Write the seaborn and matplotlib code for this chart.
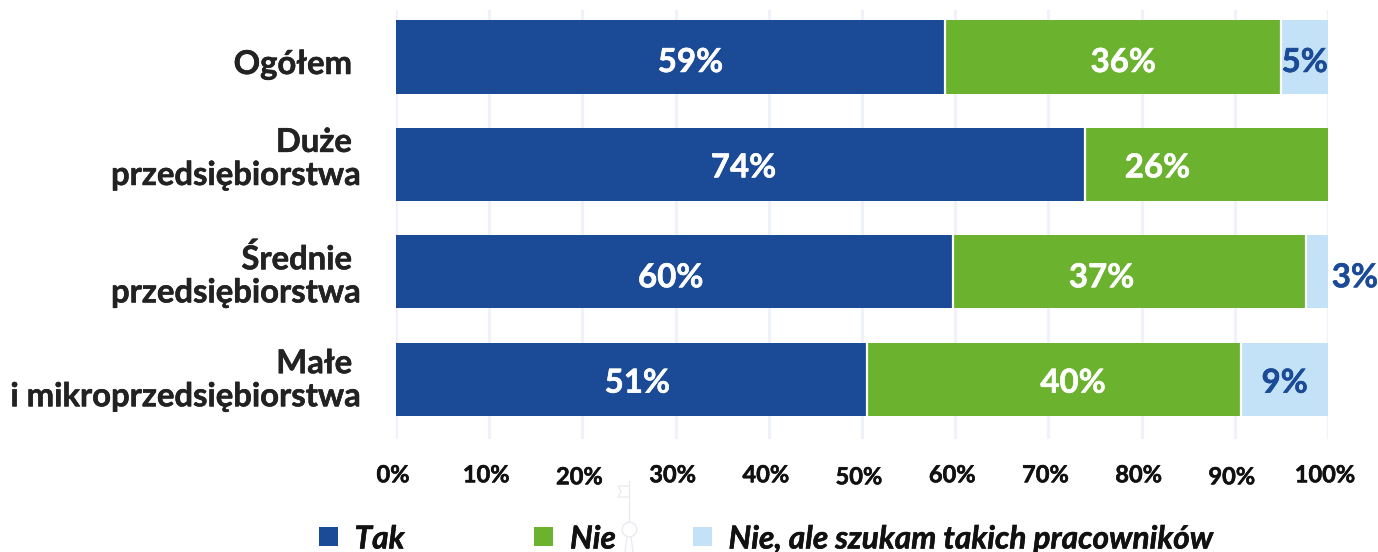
import matplotlib
matplotlib.use("Agg")
import matplotlib.pyplot as plt
import matplotlib.patheffects as pe
from matplotlib.patches import Rectangle
from matplotlib.lines import Line2D
from matplotlib.transforms import ScaledTranslation
import pandas as pd
import seaborn as sns

categories = ["Ogółem ", "Duże \nprzedsiębiorstwa", "Średnie \nprzedsiębiorstwa", "Małe \ni mikroprzedsiębiorstwa"]
tak = [58.9, 73.9, 59.8, 50.5]
nie = [36.1, 26.1, 37.8, 40.2]
szukam = [5.0, 0.0, 2.4, 9.3]
tak_labels = ["59%", "74%", "60%", "51%"]
nie_labels = ["36%", "26%", "37%", "40%"]
szukam_labels = ["5%", "", "3%", "9%"]
series_names = ["Tak", "Nie", "Nie, ale szukam takich pracowników"]
tick_values = [0, 10, 20, 30, 40, 50, 60, 70, 80, 90, 100]

BLUE, GREEN, LIGHT = "#1B4A96", "#6BB22E", "#C3E1F7"
GRID = "#EFF2FA"
DARK = "#222222"

sns.set_theme(style="white")
plt.rcParams["font.family"] = ["Lato", "DejaVu Sans"]

def thicken(text, colour):
    text.set_path_effects([pe.withStroke(linewidth=0.4, foreground=colour)])

W, H = 1378, 552
fig = plt.figure(figsize=(W / 100, H / 100), dpi=100, facecolor="white")
ax = fig.add_axes([396 / W, 1 - 439 / H, (1328 - 396) / W, (439 - 10) / H])

df = pd.DataFrame({"cat": categories, "tak": tak, "nie": nie, "szukam": szukam})
df["c2"] = df["tak"] + df["nie"]
df["c3"] = df["c2"] + df["szukam"]

# stacked bars: widest cumulative drawn first
for col, colour in [("c3", LIGHT), ("c2", GREEN), ("tak", BLUE)]:
    sns.barplot(data=df, x=col, y="cat", color=colour, saturation=1, width=0.68,
                linewidth=0, ax=ax, zorder=3)

# thin white separators at segment ends
for i in range(len(categories)):
    for v in (df["tak"][i], df["c2"][i]):
        if v < 99.9:
            ax.plot([v, v], [i - 0.34, i + 0.34], color="white", lw=1.6, zorder=4, solid_capstyle="butt")

ax.set_xlim(0, 100)
ax.set_ylim(3.557, -0.4376)
ax.set_xlabel("")
ax.set_ylabel("")
ax.set_xticks(tick_values)
ax.set_xticklabels([f"{t}%" for t in tick_values], fontsize=17, fontweight="bold", color="#111111")
ax.tick_params(axis="x", length=0, pad=17.5)
for t, lab in zip(tick_values, ax.get_xticklabels()):
    dy = -2 if t in (20, 50, 90) else 0
    lab.set_transform(lab.get_transform() + ScaledTranslation(-3 / 100, dy / 100, fig.dpi_scale_trans))
    thicken(lab, "#111111")

ax.set_yticks(range(4))
ax.set_yticklabels(categories, fontsize=23.6, fontweight="bold", color=DARK, ha="right", linespacing=1.17)
ax.tick_params(axis="y", length=0, pad=26)
label_dy = [-5, 10, 1, 3.5]  # px, positive = up
for lab, dy in zip(ax.get_yticklabels(), label_dy):
    lab.set_multialignment("right")
    lab.set_transform(lab.get_transform() + ScaledTranslation(0, dy / 100, fig.dpi_scale_trans))
    thicken(lab, DARK)
for s in ax.spines.values():
    s.set_visible(False)
ax.grid(axis="x", color=GRID, lw=2.2, zorder=0)
ax.set_axisbelow(True)

# value labels; pixel nudges off the segment centres, as set in the original
def value_label(x, i, text, colour, dx, dy):
    t = ax.annotate(text, (x, i), xytext=(dx * 0.72, -dy * 0.72), textcoords="offset points",
                    color=colour, fontsize=23.8, fontweight="bold", ha="center", va="center",
                    zorder=5, annotation_clip=False)
    thicken(t, colour)

tak_dx = [20, 3, -4, 6]
nie_dx = [10, -49, -28, 19]
label_y = [5.5, 3.5, 6, 4]
for i in range(4):
    value_label(df["tak"][i] / 2, i, tak_labels[i], "white", tak_dx[i], label_y[i])
    value_label(df["tak"][i] + df["nie"][i] / 2, i, nie_labels[i], "white", nie_dx[i], label_y[i])
for i, dx in ((0, 0), (2, 13 + 25), (3, 0)):
    value_label(df["c2"][i] + df["szukam"][i] / 2, i, szukam_labels[i], BLUE, dx, label_y[i])

# legend
for x0, colour, name, tx in [(319, BLUE, series_names[0], 354.5), (534, GREEN, series_names[1], 570), (693, LIGHT, series_names[2], 728.5)]:
    fig.add_artist(Rectangle((x0 / W, 1 - 546 / H), 19 / W, 19 / H, transform=fig.transFigure, color=colour, lw=0))
    t = fig.text(tx / W, 1 - 539 / H, name, fontsize=22.8, fontweight="bold", fontstyle="italic", color="#111111", va="center", ha="left")
    thicken(t, "#111111")

# faint decorative mast behind the legend
MARK = "#E9EAF0"
def fx(x): return x / W
def fy(y): return 1 - y / H
for xs, ys in [([629, 629], [481, 522]), ([629, 618, 621, 618, 629], [486, 486, 491, 497, 497]),
               ([627, 625], [537, 552]), ([631, 633], [537, 552])]:
    fig.add_artist(Line2D([fx(x) for x in xs], [fy(y) for y in ys], color=MARK, lw=0.9, transform=fig.transFigure))
fig.add_artist(Line2D([fx(629)], [fy(529)], marker="o", ms=10.5, mfc="white", mec=MARK, mew=0.9, transform=fig.transFigure))

fig.savefig("out.png", dpi=100)
